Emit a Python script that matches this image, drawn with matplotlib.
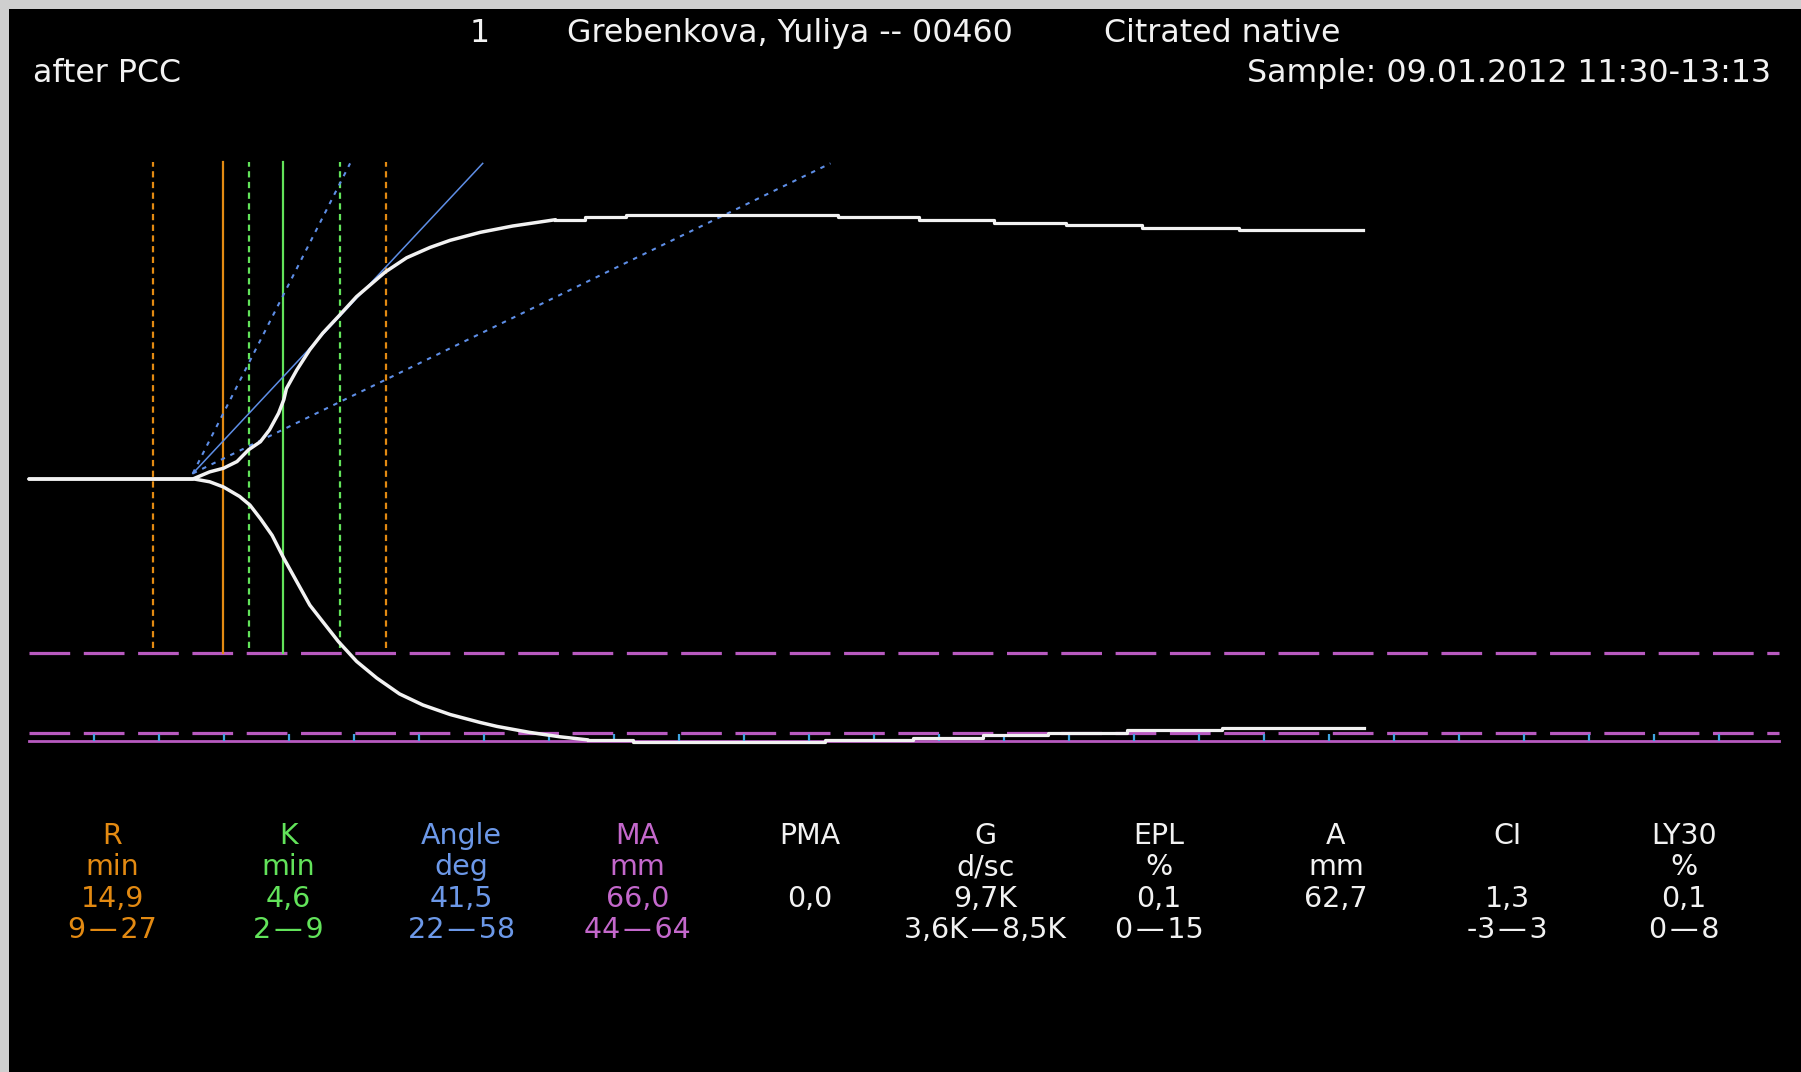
import matplotlib
matplotlib.use("Agg")
import matplotlib.pyplot as plt
import numpy as np

plt.rcParams['font.family'] = ['DejaVu Sans']
plt.rcParams['lines.scale_dashes'] = False

# ---------------- data (minutes, mm) ----------------
# upper trace: rising part then plateau (steps)
rise_up_t = [0, 12.6, 13.9, 14.95, 16.0, 16.9, 17.8, 18.5, 19.2, 19.6, 19.8, 20.6,
             21.6, 22.6, 23.8, 25.2, 27.4, 29.05, 30.85, 32.4, 34.7, 37.2, 40.5]
rise_up_a = [0, 0, 0.9, 1.35, 2.2, 3.7, 4.7, 6.2, 8.3, 10.0, 11.4, 13.75,
             16.3, 18.4, 20.5, 23.0, 26.1, 27.9, 29.2, 30.1, 31.1, 31.9, 32.7]
plat_up_t = [40.5, 42.8, 45.9, 62.2, 68.5, 74.2, 79.8, 85.6, 93.1, 102.6]
plat_up_a = [32.7, 33.0, 33.3, 33.0, 32.7, 32.3, 32.0, 31.7, 31.4, 31.4]

# lower trace
rise_lo_t = [0, 12.7, 13.9, 14.95, 16.2, 17.0, 17.8, 18.7, 19.6, 20.6, 21.6, 22.6,
             23.8, 25.2, 26.75, 28.5, 30.3, 32.4, 34.7, 36.0, 38.5, 40.8, 43.0]
rise_lo_a = [0, 0, -0.35, -1.0, -2.2, -3.3, -5.0, -7.1, -10.0, -12.95, -15.9, -18.0,
             -20.5, -23.0, -25.1, -27.1, -28.5, -29.7, -30.7, -31.2, -31.95, -32.5, -32.9]
plat_lo_t = [43.0, 46.5, 61.2, 68.0, 73.4, 78.4, 84.5, 91.8, 102.7]
plat_lo_a = [-32.9, -33.2, -32.9, -32.6, -32.3, -32.0, -31.7, -31.4, -31.4]

# marker lines (minutes)
r_value = 14.9
r_range_lines = [9.5, 27.5]
k_line = 19.5
k_range_lines = [16.9, 23.9]
marker_top = 40.0
marker_bottom = -22.0

# angle lines
angle_origin = (12.6, 0.7)
angle_end_y = 39.8
angle_end_t = 34.9
angle_range_end_t = [24.7, 61.65]

# MA reference lines (half amplitude)
ma_half = -33.0
ma_range_half = [-22.0, -32.0]
line_t_end = 134.6
tick_times = list(range(5, 131, 5))

# table
DASH = "\u200a\u2014\u200a"
params = ["R", "K", "Angle", "MA", "PMA", "G", "EPL", "A", "CI", "LY30"]
units = ["min", "min", "deg", "mm", "", "d/sc", "%", "mm", "", "%"]
values = ["14,9", "4,6", "41,5", "66,0", "0,0", "9,7K", "0,1", "62,7", "1,3", "0,1"]
ranges = ["9" + DASH + "27", "2" + DASH + "9", "22" + DASH + "58", "44" + DASH + "64", "",
          "3,6K" + DASH + "8,5K", "0" + DASH + "15", "", "-3" + DASH + "3", "0" + DASH + "8"]

ORANGE = "#E38A12"
GREEN = "#62E35A"
BLUE = "#5E8EE6"
MAGENTA = "#B85AC0"
MAG_TXT = "#C468CC"
TICKBLUE = "#3FA4E0"
WHITE = "#F2F2F2"
col_colors = [ORANGE, GREEN, "#6C98E8", MAG_TXT, WHITE, WHITE, WHITE, WHITE, WHITE, WHITE]

# ---------------- layout ----------------
W, H = 1801, 1072
X0_PX, PX_PER_MIN = 29.0, 13.0
Y0_PX, PX_PER_MM = 479.0, 7.93
BORDER = 9

fig = plt.figure(figsize=(W / 100, H / 100), dpi=100, facecolor="#CFCFCF")
ax = fig.add_axes([BORDER / W, 0, 1 - BORDER / W, 1 - BORDER / H])
ax.set_facecolor("black")
ax.set_xlim((BORDER - X0_PX) / PX_PER_MIN, (W - X0_PX) / PX_PER_MIN)
ax.set_ylim((Y0_PX - H) / PX_PER_MM, (Y0_PX - BORDER) / PX_PER_MM)
ax.axis("off")
ax.add_patch(plt.Rectangle((0, 0), 1, 1, transform=ax.transAxes, color="black", zorder=0))

# MA lines
for yv in ma_range_half:
    ax.plot([0, line_t_end], [yv, yv], color=MAGENTA, lw=2.3,
            dashes=(29.3, 9.8), zorder=2, solid_capstyle="butt", dash_capstyle="butt")
ax.plot([0, line_t_end], [ma_half, ma_half], color=MAGENTA, lw=2.0, zorder=2)
ax.vlines(tick_times, ma_half, ma_half + 0.8, color=TICKBLUE, lw=1.6, zorder=3)

# vertical marker lines
for t in r_range_lines:
    ax.plot([t, t], [marker_bottom + 0.7, marker_top], color=ORANGE, lw=1.6,
            dashes=(4.5, 3.2), zorder=3)
ax.plot([r_value, r_value], [marker_bottom, marker_top], color=ORANGE, lw=1.6, zorder=3)
for t in k_range_lines:
    ax.plot([t, t], [marker_bottom + 0.7, marker_top], color=GREEN, lw=1.6,
            dashes=(4.5, 3.2), zorder=3)
ax.plot([k_line, k_line], [marker_bottom, marker_top], color=GREEN, lw=1.6, zorder=3)

# angle lines
ax.plot([angle_origin[0], angle_end_t], [angle_origin[1], angle_end_y],
        color=BLUE, lw=1.1, zorder=4)
for te in angle_range_end_t:
    ax.plot([angle_origin[0], te], [angle_origin[1], angle_end_y],
            color=BLUE, lw=1.5, dashes=(3.2, 4.3), zorder=4)

# trace
for tt, aa in [(rise_up_t, rise_up_a), (rise_lo_t, rise_lo_a)]:
    ax.plot(tt, aa, color=WHITE, lw=2.5, zorder=5, solid_joinstyle="round",
            solid_capstyle="round")
for tt, aa in [(plat_up_t, plat_up_a), (plat_lo_t, plat_lo_a)]:
    ax.step(tt, aa, where="post", color=WHITE, lw=2.3, zorder=5)


# ---------------- texts ----------------
def fx(px):
    return px / W


def fy(py):
    return 1 - py / H


FS = 22.8
FS_TABLE = 20.5
fig.text(fx(480), fy(42), "1", color=WHITE, fontsize=FS, ha="center", va="baseline")
fig.text(fx(567), fy(42), "Grebenkova, Yuliya -- 00460", color=WHITE, fontsize=FS,
         ha="left", va="baseline")
fig.text(fx(1104), fy(42), "Citrated native", color=WHITE, fontsize=FS,
         ha="left", va="baseline")
fig.text(fx(33), fy(82), "after PCC", color=WHITE, fontsize=FS, ha="left", va="baseline")
fig.text(fx(1771), fy(82), "Sample: 09.01.2012 11:30-13:13", color=WHITE, fontsize=FS,
         ha="right", va="baseline")

col_x = [112.6, 288.3, 461.7, 637.5, 809.8, 985.5, 1159, 1336, 1507, 1684]
row_y = [844, 875, 907, 938]
for i, name in enumerate(params):
    c = col_colors[i]
    for j, txt in enumerate([name, units[i], values[i], ranges[i]]):
        if txt:
            fig.text(fx(col_x[i]), fy(row_y[j]), txt, color=c, fontsize=FS_TABLE,
                     ha="center", va="baseline")

fig.savefig("out.png", dpi=100, facecolor=fig.get_facecolor())
